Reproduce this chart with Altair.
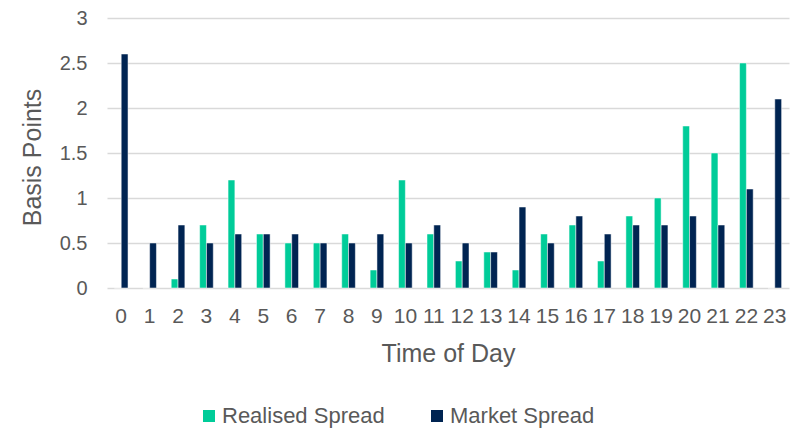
import altair as alt
import pandas as pd

hours = list(range(24))
realised = [0, 0, 0.1, 0.7, 1.2, 0.6, 0.5, 0.5, 0.6, 0.2, 1.2, 0.6, 0.3, 0.4, 0.2, 0.6, 0.7, 0.3, 0.8, 1.0, 1.8, 1.5, 2.5, 0]
market = [2.6, 0.5, 0.7, 0.5, 0.6, 0.6, 0.6, 0.5, 0.5, 0.6, 0.5, 0.7, 0.5, 0.4, 0.9, 0.5, 0.8, 0.6, 0.7, 0.7, 0.8, 0.7, 1.1, 2.1]
series_names = ["Realised Spread", "Market Spread"]
colors = ["#00CC99", "#002452"]
y_ticks = [0, 0.5, 1, 1.5, 2, 2.5, 3]

rows = []
for h, r, m in zip(hours, realised, market):
    rows.append({"hour": h, "series": series_names[0], "value": r})
    rows.append({"hour": h, "series": series_names[1], "value": m})
df = pd.DataFrame(rows)

txt = "#595959"

chart = alt.Chart(df).mark_bar(stroke="white", strokeWidth=0.5).encode(
    x=alt.X("hour:O",
            scale=alt.Scale(paddingInner=0.52, paddingOuter=0.26),
            axis=alt.Axis(title="Time of Day", labelAngle=0, ticks=False, domain=False, grid=False,
                          labelFontSize=21, labelColor=txt, labelPadding=17,
                          titleFontSize=25, titleColor=txt, titleFontWeight="normal",
                          titleX=341, titleY=73, titleBaseline="alphabetic")),
    xOffset=alt.XOffset("series:N", sort=series_names, scale=alt.Scale(domain=series_names)),
    y=alt.Y("value:Q",
            scale=alt.Scale(domain=[0, 3]),
            axis=alt.Axis(values=y_ticks, title="Basis Points", labelExpr="'' + datum.value",
                          ticks=False, domain=False, gridColor="#D9D9D9", gridWidth=1.3,
                          labelFontSize=20, labelColor=txt, labelPadding=20,
                          titleFontSize=25, titleColor=txt, titleFontWeight="normal",
                          titleX=-67, titleY=139, titleBaseline="alphabetic")),
    color=alt.Color("series:N",
                    scale=alt.Scale(domain=series_names, range=colors),
                    legend=alt.Legend(title=None, orient="none", legendX=91, legendY=387,
                                      direction="horizontal", symbolType="square", symbolSize=144,
                                      symbolStrokeWidth=0, labelFontSize=22, labelColor=txt,
                                      labelLimit=400, padding=0,
                                      columnPadding=41, labelOffset=2)),
).properties(
    width=682, height=270,
    autosize="none",
    padding={"left": 99, "top": 10, "right": 4, "bottom": 142},
).configure(font="Liberation Sans").configure_view(stroke=None)

chart.save("out.html", embed_options={"renderer": "svg", "actions": False})
